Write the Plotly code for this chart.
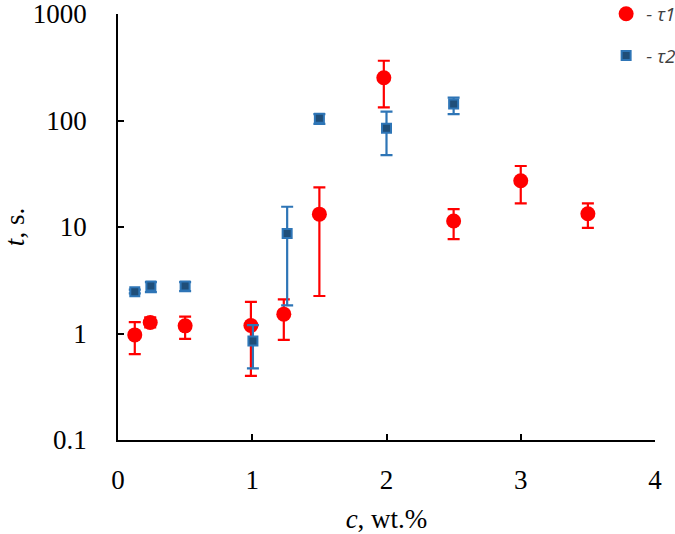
import plotly.graph_objects as go

# tau1 (red circles)
c1 = [0.125, 0.24, 0.5, 0.99, 1.235, 1.5, 1.98, 2.5, 3.0, 3.5]
t1 = [0.97, 1.27, 1.18, 1.19, 1.52, 13.2, 252, 11.4, 27.2, 13.3]
t1_hi = [1.28, 1.42, 1.44, 1.98, 2.09, 23.6, 364, 14.7, 37.4, 16.7]
t1_lo = [0.64, 1.14, 0.89, 0.40, 0.87, 2.25, 133, 7.7, 16.7, 9.8]

# tau2 (blue squares)
c2 = [0.125, 0.245, 0.5, 1.005, 1.26, 1.5, 2.0, 2.5]
t2 = [2.47, 2.79, 2.79, 0.85, 8.7, 105, 84.5, 143]
t2_hi = [2.58, 3.04, 3.04, 1.20, 15.5, 115, 121, 164]
t2_lo = [2.38, 2.45, 2.50, 0.47, 1.84, 93, 47.4, 115]

x_ticks = [0, 1, 2, 3, 4]
y_ticks = [0.1, 1, 10, 100, 1000]
y_tick_text = ["0.1", "1", "10", "100", "1000"]

red = "#FF0000"
blue = "#2E75B6"
navy = "#1F4E79"

fig = go.Figure()
fig.add_trace(go.Scatter(
    x=c1, y=t1, mode="markers", name="<i>- τ1</i>", legendgroup="a",
    marker=dict(symbol="circle", size=15, color=red, line=dict(width=0)),
    error_y=dict(type="data", symmetric=False,
                 array=[h - v for h, v in zip(t1_hi, t1)],
                 arrayminus=[v - l for v, l in zip(t1, t1_lo)],
                 color=red, thickness=2.2, width=6),
))
fig.add_trace(go.Scatter(
    x=c2, y=t2, mode="markers", name="<i>- τ2</i>", legendgroup="b",
    marker=dict(symbol="square", size=9, color=navy, line=dict(width=2, color=blue)),
    error_y=dict(type="data", symmetric=False,
                 array=[h - v for h, v in zip(t2_hi, t2)],
                 arrayminus=[v - l for v, l in zip(t2, t2_lo)],
                 color=blue, thickness=2.2, width=6),
))

serif = "Liberation Serif"
fig.update_layout(
    width=675, height=534,
    margin=dict(l=118, r=20, t=14, b=94, autoexpand=False),
    paper_bgcolor="white", plot_bgcolor="white",
    showlegend=True,
    legend=dict(x=0.909, y=1.045, xanchor="left", yanchor="top",
                traceorder="grouped", tracegroupgap=14,
                font=dict(family="Open Sans", size=19, color="#404040"),
                bgcolor="rgba(0,0,0,0)"),
    xaxis=dict(range=[0, 4], tickvals=x_ticks, ticks="inside", ticklen=6,
               tickwidth=1.5, tickcolor="black", automargin=False,
               showline=True, linecolor="black", linewidth=1.5,
               showgrid=False, zeroline=False,
               ticklabelstandoff=15, ticklabeloverflow="allow",
               tickfont=dict(family=serif, size=27, color="black"),
               title=dict(text="<i>c</i>, wt.%", standoff=19,
                          font=dict(family=serif, size=27, color="black"))),
    yaxis=dict(type="log", range=[-1, 3], tickvals=y_ticks, ticktext=y_tick_text,
               ticks="inside", ticklen=6, tickwidth=1.5, tickcolor="black",
               automargin=False,
               showline=True, linecolor="black", linewidth=1.5,
               showgrid=False, zeroline=False,
               ticklabelstandoff=24, ticklabeloverflow="allow",
               tickfont=dict(family=serif, size=27, color="black"),
               title=dict(text="<i>t</i>, s.", standoff=14,
                          font=dict(family=serif, size=27, color="black"))),
)

fig.write_html("out.html", config={"displayModeBar": False},
               post_script="document.body.style.margin='0';")
